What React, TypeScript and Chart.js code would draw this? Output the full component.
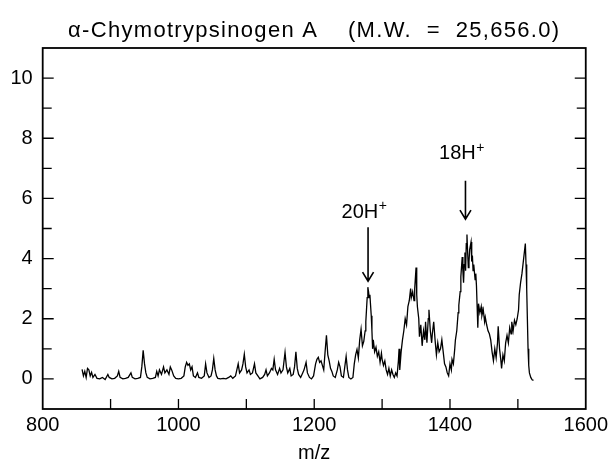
import { useEffect, useRef } from 'react';
import { Chart, registerables } from 'chart.js';

Chart.register(...registerables);

const FONT = "'Liberation Sans', Arial, Helvetica, sans-serif";

const titleText = 'α-Chymotrypsinogen A    (M.W.  =  25,656.0)';
const xAxisTitle = 'm/z';

const xTicks = [800, 1000, 1200, 1400, 1600];
const xMinorTicks = [900, 1000, 1100, 1200, 1300, 1400, 1500];
const yTicks = [0, 2, 4, 6, 8, 10];
const yMinorTicks = [0, 1, 2, 3, 4, 5, 6, 7, 8, 9, 10];

const mz = [
  858, 860, 862, 864, 866, 868, 870, 872, 874, 877, 880, 884, 888, 892, 896, 898, 902, 906, 910, 912,
  914, 918, 922, 926, 930, 932, 936, 940, 944, 946, 948, 950, 952, 954, 958, 962, 966, 968, 970, 972,
  975, 978, 980, 983, 986, 988, 990, 993, 996, 1000, 1004, 1008, 1010, 1012, 1014, 1016, 1018, 1020, 1022, 1025,
  1028, 1030, 1034, 1038, 1040, 1042, 1045, 1048, 1050, 1052, 1054, 1056, 1058, 1062, 1066, 1070, 1074, 1077, 1080, 1084,
  1086, 1088, 1090, 1093, 1095, 1097, 1099, 1101, 1104, 1106, 1109, 1112, 1114, 1117, 1120, 1124, 1127, 1129, 1131, 1134,
  1137, 1139, 1141, 1143, 1146, 1149, 1151, 1154, 1157, 1159, 1161, 1164, 1166, 1169, 1171, 1173, 1175, 1177, 1180, 1183,
  1185, 1188, 1190, 1193, 1196, 1199, 1202, 1204, 1206, 1208, 1210, 1212, 1214, 1216, 1218, 1220, 1222, 1224, 1226, 1228,
  1231, 1234, 1236, 1238, 1240, 1243, 1245, 1247, 1249, 1251, 1254, 1257, 1259, 1261, 1263, 1265, 1267, 1269, 1271, 1273,
  1275, 1276, 1277, 1278, 1279, 1280, 1281, 1282, 1283, 1284, 1285, 1286, 1287, 1289, 1291, 1293, 1295, 1297, 1299, 1300,
  1302, 1304, 1306, 1308, 1310, 1312, 1314, 1316, 1318, 1320, 1322, 1324, 1325, 1326, 1328, 1330, 1332, 1334, 1336, 1338,
  1340, 1342, 1343, 1345, 1347, 1348, 1350, 1351, 1352, 1354, 1355, 1357, 1359, 1361, 1363, 1364, 1366, 1368, 1369, 1371,
  1373, 1374, 1376, 1378, 1380, 1382, 1384, 1386, 1388, 1390, 1392, 1394, 1396, 1398, 1400, 1402, 1403, 1405, 1407, 1408,
  1410, 1412, 1413, 1415, 1416, 1418, 1419, 1420, 1421, 1422, 1423, 1424, 1425, 1426, 1427, 1428, 1429, 1431, 1432, 1433,
  1434, 1435, 1437, 1438, 1439, 1440, 1441, 1442, 1444, 1446, 1447, 1449, 1451, 1452, 1454, 1456, 1458, 1460, 1462, 1464,
  1466, 1468, 1470, 1471, 1473, 1475, 1476, 1478, 1480, 1482, 1484, 1486, 1488, 1490, 1491, 1493, 1495, 1497, 1499, 1501,
  1502, 1504, 1506, 1508, 1510, 1511, 1512, 1513, 1514, 1515, 1516, 1517, 1519, 1521, 1523,
];

const intensity = [
  0.32, 0.1, 0.25, 0.05, 0.35, 0.3, 0.1, 0.22, 0.05, 0.15, 0.02, 0.0, 0.05, -0.02, 0.15, 0.05, 0.0, 0.02, 0.1, 0.25,
  0.05, 0.0, 0.02, 0.05, 0.2, 0.05, 0.0, 0.02, 0.05, 0.4, 0.95, 0.5, 0.2, 0.05, 0.0, 0.02, 0.05, 0.25, 0.1, 0.3,
  0.15, 0.4, 0.2, 0.3, 0.15, 0.4, 0.3, 0.1, 0.02, 0.0, 0.02, 0.1, 0.4, 0.55, 0.45, 0.5, 0.3, 0.4, 0.1, 0.05,
  0.2, 0.05, 0.02, 0.1, 0.5, 0.2, 0.05, 0.1, 0.3, 0.68, 0.3, 0.1, 0.02, 0.0, 0.02, 0.0, 0.05, 0.1, 0.02, 0.1,
  0.3, 0.5, 0.2, 0.3, 0.5, 0.82, 0.4, 0.2, 0.3, 0.15, 0.2, 0.5, 0.2, 0.1, 0.0, 0.05, 0.15, 0.3, 0.1, 0.2,
  0.35, 0.3, 0.65, 0.3, 0.15, 0.35, 0.2, 0.3, 0.88, 0.4, 0.2, 0.35, 0.1, 0.15, 0.4, 0.9, 0.35, 0.15, 0.05, 0.2,
  0.3, 0.55, 0.2, 0.05, 0.0, 0.1, 0.5, 0.65, 0.72, 0.55, 0.6, 0.45, 0.3, 0.9, 1.45, 0.8, 0.6, 0.35, 0.25, 0.1,
  0.05, 0.3, 0.55, 0.4, 0.1, 0.05, 0.4, 0.75, 0.3, 0.05, 0.0, 0.05, 0.5, 0.8, 0.98, 0.7, 1.3, 1.65, 1.1, 1.25,
  1.6, 1.9, 2.3, 2.7, 3.05, 2.9, 2.7, 2.8, 2.45, 2.1, 1.6, 1.0, 1.3, 0.9, 1.05, 0.75, 0.9, 0.55, 0.85, 0.65,
  0.45, 0.6, 0.3, 0.15, 0.35, 0.1, 0.3, 0.15, 0.05, 0.2, 0.1, 0.6, 1.0, 0.3, 0.9, 1.3, 1.6, 2.0, 1.8, 2.4,
  2.6, 3.0, 2.7, 2.9, 2.6, 3.0, 3.7, 2.8, 2.4, 2.0, 1.4, 1.8, 1.1, 1.6, 1.3, 1.9, 1.2, 2.0, 2.3, 1.6,
  1.2, 1.5, 1.9, 1.3, 0.8, 1.2, 0.9, 1.0, 1.3, 0.9, 0.5, 0.4, 0.2, 0.1, 0.5, 0.3, 0.65, 0.5, 1.0, 1.3,
  1.6, 2.2, 2.45, 2.9, 3.4, 4.05, 3.6, 3.2, 3.8, 4.2, 3.6, 4.5, 4.8, 4.2, 3.7, 3.9, 4.3, 4.55, 3.9, 4.1,
  3.6, 3.8, 3.3, 3.5, 3.1, 2.4, 1.7, 2.5, 2.2, 2.4, 2.1, 2.3, 1.9, 2.05, 1.8, 1.6, 1.5, 1.3, 0.9, 0.6,
  1.0, 0.7, 1.2, 1.75, 1.0, 0.6, 0.35, 0.8, 0.6, 1.2, 1.45, 1.2, 1.7, 1.5, 1.9, 1.6, 1.95, 1.8, 2.0, 2.3,
  2.8, 3.2, 3.5, 3.9, 4.3, 4.5, 3.8, 3.0, 2.0, 1.0, 0.45, 0.2, 0.05, -0.03, -0.05,
];

// Peak annotations (charge states)
const annMain = ['20H', '18H'];
const annSup = ['+', '+'];
const annX = [1279.3, 1422.8];
const annTipY = [3.25, 5.31];
const annTailY = [5.04, 6.59];
const annLabelY = [5.54, 7.48];

const framePlugin = {
  id: 'framePlugin',
  afterDraw(chart: any) {
    const { ctx, chartArea, scales } = chart;
    const { left, right, top, bottom } = chartArea;
    const xs = scales.x;
    const ys = scales.y;
    ctx.save();

    // title
    ctx.fillStyle = '#000';
    ctx.font = `22px ${FONT}`;
    ctx.textAlign = 'center';
    ctx.textBaseline = 'alphabetic';
    try {
      (ctx as any).letterSpacing = '1.3px';
    } catch (e) {
      /* ignore */
    }
    ctx.fillText(titleText, (left + right) / 2, 37);
    try {
      (ctx as any).letterSpacing = '0px';
    } catch (e) {
      /* ignore */
    }

    ctx.strokeStyle = '#000';
    ctx.lineWidth = 1.8;
    ctx.strokeRect(left, top, right - left, bottom - top);
    ctx.lineWidth = 1.3;
    ctx.beginPath();
    for (const v of xMinorTicks) {
      const px = xs.getPixelForValue(v);
      ctx.moveTo(px, bottom);
      ctx.lineTo(px, bottom - 10);
    }
    for (const v of yMinorTicks) {
      const py = ys.getPixelForValue(v);
      const len = v % 2 === 0 ? 11 : 9;
      ctx.moveTo(left, py);
      ctx.lineTo(left + len, py);
      ctx.moveTo(right, py);
      ctx.lineTo(right - len, py);
    }
    ctx.stroke();

    // annotations
    for (let i = 0; i < annMain.length; i++) {
      const ax = xs.getPixelForValue(annX[i]);
      const tipY = ys.getPixelForValue(annTipY[i]);
      const tailY = ys.getPixelForValue(annTailY[i]);
      const labY = ys.getPixelForValue(annLabelY[i]);
      ctx.lineWidth = 1.6;
      ctx.beginPath();
      ctx.moveTo(ax, tailY);
      ctx.lineTo(ax, tipY);
      ctx.moveTo(ax - 5.5, tipY - 9);
      ctx.lineTo(ax, tipY);
      ctx.lineTo(ax + 5.5, tipY - 9);
      ctx.stroke();

      ctx.fillStyle = '#000';
      ctx.textBaseline = 'middle';
      ctx.textAlign = 'left';
      const mainFont = `20px ${FONT}`;
      const supFont = `14px ${FONT}`;
      ctx.font = mainFont;
      const wMain = ctx.measureText(annMain[i]).width;
      ctx.font = supFont;
      const wSup = ctx.measureText(annSup[i]).width;
      const startX = ax - 4 - (wMain + wSup) / 2;
      ctx.font = mainFont;
      ctx.fillText(annMain[i], startX, labY);
      ctx.font = supFont;
      ctx.fillText(annSup[i], startX + wMain + 0.5, labY - 6);
    }
    ctx.restore();
  },
};

export default function App() {
  const canvasRef = useRef<HTMLCanvasElement | null>(null);

  useEffect(() => {
    const canvas = canvasRef.current;
    if (!canvas) return;
    const points = mz.map((m, i) => ({ x: m, y: intensity[i] }));
    const chart = new Chart(canvas, {
      type: 'line',
      data: {
        datasets: [
          {
            data: points,
            borderColor: '#000',
            borderWidth: 1.3,
            pointRadius: 0,
            tension: 0,
            fill: false,
          },
        ],
      },
      options: {
        responsive: false,
        animation: false,
        devicePixelRatio: 1,
        layout: { padding: { left: 0, right: 24.7, top: 48, bottom: 0 } },
        plugins: {
          legend: { display: false },
          tooltip: { enabled: false },
          title: { display: false },
        },
        scales: {
          x: {
            type: 'linear',
            min: 800,
            max: 1600,
            afterBuildTicks: (s: any) => {
              s.ticks = xTicks.map((v) => ({ value: v }));
            },
            afterFit: (s: any) => {
              s.height = 59;
            },
            grid: { display: false, drawTicks: false },
            border: { display: false },
            ticks: {
              color: '#000',
              font: { family: FONT, size: 20 },
              padding: 4,
              maxRotation: 0,
              autoSkip: false,
              callback: (v: any) => String(v),
            },
            title: {
              display: true,
              text: xAxisTitle,
              color: '#000',
              font: { family: FONT, size: 20 },
              padding: { top: 0, bottom: 3 },
            },
          },
          y: {
            type: 'linear',
            min: -1,
            max: 11,
            afterBuildTicks: (s: any) => {
              s.ticks = yTicks.map((v) => ({ value: v }));
            },
            afterFit: (s: any) => {
              s.width = 42.7;
            },
            grid: { display: false, drawTicks: false },
            border: { display: false },
            ticks: {
              color: '#000',
              font: { family: FONT, size: 20 },
              padding: 10,
              callback: (v: any) => String(v),
            },
          },
        },
      },
      plugins: [framePlugin],
    });
    return () => chart.destroy();
  }, []);

  return (
    <div style={{ position: 'absolute', left: 0, top: 0, width: 612, height: 468, background: '#fff' }}>
      <canvas ref={canvasRef} width={612} height={468} />
    </div>
  );
}
